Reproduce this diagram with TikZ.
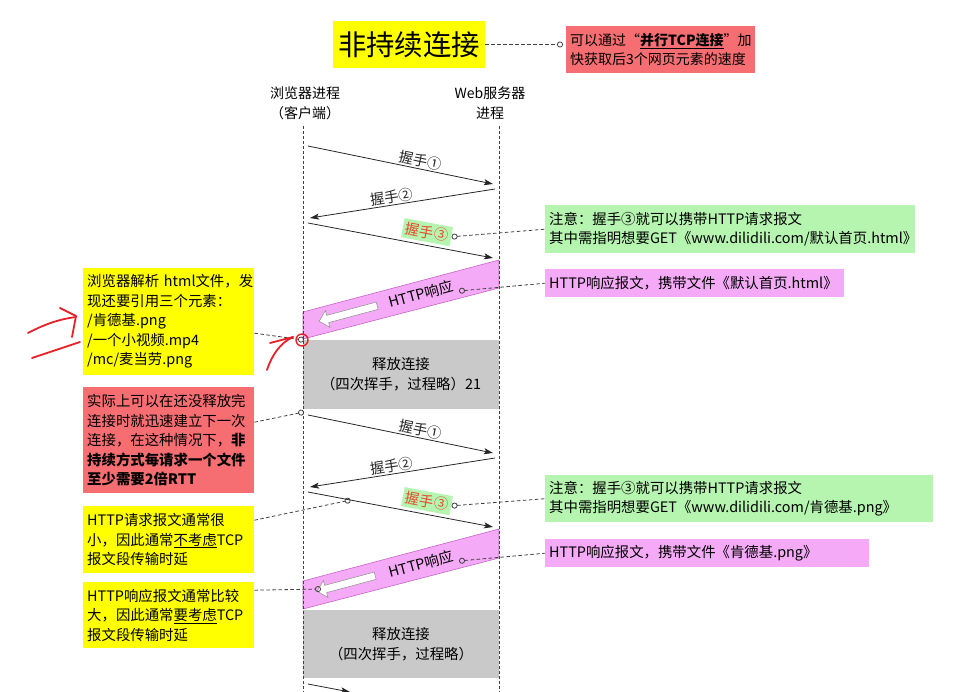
\documentclass[tikz,border=0pt]{standalone}
\usepackage{fontspec}
\setmainfont{Noto Sans CJK SC}
\usepackage{xcolor}
\definecolor{noteyellow}{HTML}{FFFF00}
\definecolor{notered}{HTML}{F66E72}
\definecolor{notegreen}{HTML}{B6F5B0}
\definecolor{notepink}{HTML}{F5AAF7}
\definecolor{releasegray}{HTML}{C9C9C9}
\definecolor{shakeorange}{HTML}{E64A2E}
\definecolor{scribble}{HTML}{E8202A}
\usetikzlibrary{arrows.meta, shapes.arrows, positioning, calc}

\begin{document}
\begin{tikzpicture}[x=1pt, y=-1pt,
  titlebox/.style={fill=noteyellow, minimum width=152pt, minimum height=47pt,
    inner sep=0pt, font=\fontsize{28.4}{30}\selectfont},
  notebox/.style={anchor=north west, inner xsep=4pt, inner ysep=0pt, align=left,
    font=\fontsize{14.4}{19.5}\selectfont},
  lanelabel/.style={align=center, font=\fontsize{14}{20}\selectfont},
  lifeline/.style={black!75, line width=0.7pt, dash pattern=on 3pt off 2pt},
  shake/.style={-{Stealth[length=9pt, width=6pt, inset=2pt]}, line width=0.8pt, black!85},
  shakelabel/.style={sloped, above, inner sep=1pt, font=\fontsize{14.4}{16}\selectfont},
  shakethree/.style={sloped, above=3pt, fill=notegreen, text=shakeorange, inner sep=3pt,
    font=\fontsize{14.4}{16}\selectfont},
  respband/.style={fill=notepink, draw=notepink!60!violet, line width=0.6pt},
  resplabel/.style={rotate=15, inner sep=1pt, font=\fontsize{14.4}{16}\selectfont},
  backarrow/.style={single arrow, fill=white, draw=black!45, rotate=195, inner sep=0pt,
    text height=7pt, text depth=0pt, minimum height=60pt,
    single arrow head extend=5pt, line width=0.5pt},
  releasebox/.style={fill=releasegray, minimum width=196pt, minimum height=69pt,
    align=center, font=\fontsize{14.4}{20}\selectfont},
  notelink/.style={black!75, line width=0.8pt, dash pattern=on 3.5pt off 2.5pt},
  dotstart/.style={notelink, {Circle[open, length=6pt, width=6pt]}-},
  dotend/.style={notelink, -{Circle[open, length=6pt, width=6pt]}},
  pen/.style={scribble, line width=1.8pt, line cap=round, line join=round}
]
  \useasboundingbox (0,0) rectangle (957,692);

  % 标题与说明
  \node[titlebox] (title) at (409,44.5) {非持续连接};
  \node[notebox, fill=notered, text width=181pt, minimum height=47pt,
    font=\fontsize{14}{19}\selectfont] (tcpnote) at (566,26)
    {可以通过“\textbf{\underline{并行TCP连接}}”加\\快获取后3个网页元素的速度};
  \draw[dotend] (title.east) -- ($(title.east -| tcpnote.west)+(-3,0)$);

  % 进程
  \node[lanelabel] (clientlbl) at (305,103) {浏览器进程\\（客户端）};
  \node[lanelabel] (serverlbl) at (490,103) {Web服务器\\进程};
  \coordinate (clienttop) at (303,126);
  \coordinate (clientbot) at (303,692);
  \coordinate (servertop) at (499,126);
  \coordinate (serverbot) at (499,692);

  % 第一次请求
  \draw[shake] (308,146) -- node[shakelabel, pos=.6] (shake1a) {握手①} (493,184);
  \draw[shake] (495,189) -- node[shakelabel, pos=.55] (shake2a) {握手②} (310,218);
  \draw[shake] (308,223) -- node[shakethree, pos=.63] (shake3a) {握手③} (493,258);
  \fill[respband] (303,312) -- (499,260) -- (499,288) -- (303,339) -- cycle;
  \node[resplabel] (resp1lbl) at (421,294) {HTTP响应};
  \node[backarrow] (back1) at (350,313) {};
  \coordinate (resp1dot) at (459,291);
  \node[releasebox] (release1) at (401,374.5) {释放连接\\（四次挥手，过程略）21};

  % 第二次请求
  \draw[shake] (308,415) -- node[shakelabel, pos=.6] (shake1b) {握手①} (493,453);
  \draw[shake] (495,458) -- node[shakelabel, pos=.55] (shake2b) {握手②} (310,487);
  \draw[shake] (308,492) -- node[shakethree, pos=.63] (shake3b) {握手③}
    coordinate[pos=.23] (req2dot) (493,527);
  \fill[respband] (303,581) -- (499,529) -- (499,558) -- (303,609) -- cycle;
  \node[resplabel] (resp2lbl) at (421,564) {HTTP响应};
  \node[backarrow] (back2) at (348,583) {};
  \coordinate (resp2dot) at (459,561);
  \coordinate (back2dot) at (321,589);
  \node[releasebox, minimum height=68pt] (release2) at (401,644) {释放连接\\（四次挥手，过程略）};
  \draw[shake] (308,684) -- (350,692);

  % 生命线
  \draw[lifeline] (clienttop) -- (clientbot);
  \draw[lifeline] (servertop) -- (serverbot);

  % 右侧注释
  \node[notebox, fill=notegreen, text width=362pt, minimum height=48pt] (reqnote1) at (545,205)
    {注意：握手③就可以携带HTTP请求报文\\其中需指明想要GET《www.dilidili.com/默认首页.html》};
  \node[notebox, fill=notepink, text width=291pt, minimum height=28pt] (resnote1) at (545,269)
    {HTTP响应报文，携带文件《默认首页.html》};
  \node[notebox, fill=notegreen, text width=380pt, minimum height=47pt] (reqnote2) at (545,475)
    {注意：握手③就可以携带HTTP请求报文\\其中需指明想要GET《www.dilidili.com/肯德基.png》};
  \node[notebox, fill=notepink, text width=316pt, minimum height=28pt] (resnote2) at (545,539)
    {HTTP响应报文，携带文件《肯德基.png》};
  \draw[dotstart] (shake3a.east) -- (reqnote1.west);
  \draw[dotstart] (resp1dot) -- (resnote1.west);
  \draw[dotstart] (shake3b.east) -- (reqnote2.west);
  \draw[dotstart] (resp2dot) -- (resnote2.west);

  % 左侧注释
  \coordinate (elemdot) at (304,340);
  \coordinate (reusedot) at (304,412);
  \node[notebox, fill=noteyellow, text width=163pt, minimum height=107pt] (elembox) at (83,268)
    {\mbox{浏览器解析 html文件，发}\\现还要引用三个元素：\\/肯德基.png\\/一个小视频.mp4\\/mc/麦当劳.png};
  \node[notebox, fill=notered, text width=163pt, minimum height=106pt] (reusebox) at (83,387)
    {实际上可以在还没释放完\\连接时就迅速建立下一次\\连接，在这种情况下，\textbf{非}\\
     \textbf{持续方式每请求一个文件}\\\textbf{至少需要2倍RTT}};
  \node[notebox, fill=noteyellow, text width=163pt, minimum height=67pt] (smallbox) at (83,506)
    {HTTP请求报文通常很\\小，因此通常\underline{不考虑}TCP\\报文段传输时延};
  \node[notebox, fill=noteyellow, text width=163pt, minimum height=66pt] (largebox) at (83,582)
    {HTTP响应报文通常比较\\大，因此通常\underline{要考虑}TCP\\报文段传输时延};
  \draw[dotend] ([yshift=-11.5pt]elembox.east) -- (elemdot);
  \draw[dotend] ([yshift=18pt]reusebox.east) -- (reusedot);
  \draw[dotend] ([yshift=19.5pt]smallbox.east) -- (req2dot);
  \draw[dotend] ([yshift=25pt]largebox.east) -- (back2dot);

  % 红色笔迹
  \draw[pen] (28,333) .. controls (45,324) and (60,319) .. (76,317);
  \draw[pen] (60,308) -- (76,316) -- (72,337);
  \draw[pen] (32,358) -- (80,342);
  \draw[pen] (267,370) .. controls (272,355) and (280,343) .. (293,337);
  \draw[pen] (270,343) -- (293,337);
  \draw[pen, line width=1.4pt] (302,340) circle (6);
\end{tikzpicture}
\end{document}
